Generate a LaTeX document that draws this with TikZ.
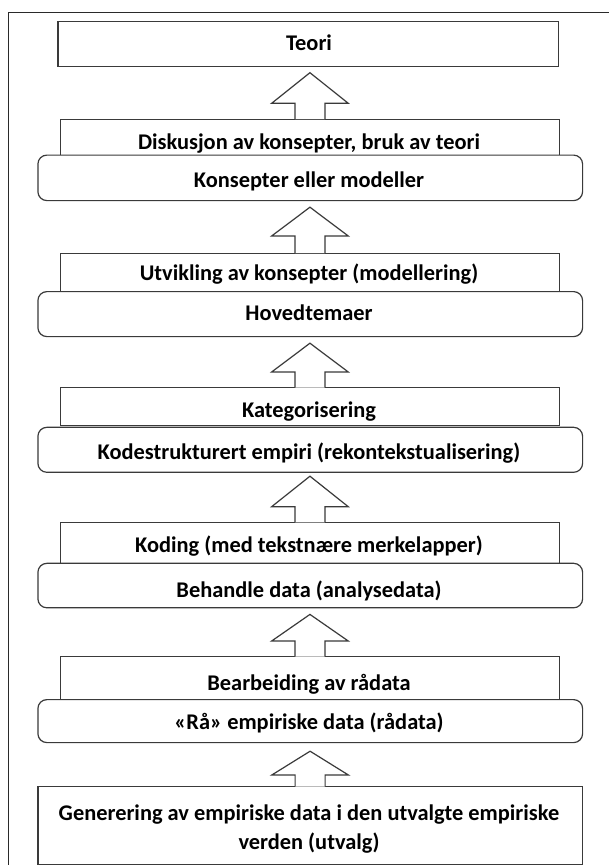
\documentclass[tikz,border=0pt]{standalone}
\usepackage{fontspec}
\setmainfont{Carlito}
\usetikzlibrary{calc}
\definecolor{edge}{HTML}{3A3A3A}
\definecolor{frame}{HTML}{2A2A2A}
\tikzset{
  sqbox/.style={draw=edge, line width=1.2pt, fill=white, rectangle, anchor=north west, inner sep=0pt},
  rdbox/.style={draw=edge, line width=1.2pt, fill=white, rectangle, rounded corners=9pt, anchor=north west, inner sep=0pt},
  lbl/.style={font=\fontsize{22.4}{29}\selectfont\bfseries, anchor=base, inner sep=0pt, text=black},
  blockarrow/.style={draw=edge, line width=1.2pt, fill=white, line join=miter},
}
% block arrow from the top of a lower box (#1) up to the box above it (#2)
% #3: gap below the upper box, #4: length of the shaft
\newcommand\flowarrow[4]{%
  \coordinate (#1-tip) at ($(#2.south)+(0,#3)$);
  \draw[blockarrow] ($(#1.north)+(-15,0.6)$) -- ++(0,-#4-0.6) -- ++(-23.3,0)
    -- (#1.north |- #1-tip) -- ($(#1.north)+(38.3,-#4)$) -- ++(-23.3,0) -- ++(0,#4+0.6);
}
\begin{document}
\begin{tikzpicture}[x=1pt,y=-1pt]
  \useasboundingbox (0,0) rectangle (609,865);
  \clip (0,0) rectangle (609,865);
  \fill[white] (0,0) rectangle (609,865);
  % outer frame, running off the right and bottom edges
  \draw[frame, line width=1pt] (8.3,880) -- (8.3,12.7) -- (620,12.7);

  % boxes, top to bottom
  \node[sqbox, minimum width=500.4, minimum height=44.7] (teori) at (57.3,21) {};
  \node[sqbox, minimum width=498.7, minimum height=36] (disk) at (60,118.5) {};
  \node[rdbox, minimum width=544.7, minimum height=45.5] (kons) at (37.3,154.5) {};
  \node[sqbox, minimum width=498.7, minimum height=38.5] (utv) at (60,252.5) {};
  \node[rdbox, minimum width=544.7, minimum height=45] (hoved) at (37.3,291) {};
  \node[sqbox, minimum width=498.7, minimum height=38] (kat) at (60,387) {};
  \node[rdbox, minimum width=544.7, minimum height=45] (kode) at (37.3,426.7) {};
  \node[sqbox, minimum width=498.7, minimum height=41] (koding) at (60,521.7) {};
  \node[rdbox, minimum width=544.7, minimum height=44.5] (behandle) at (37.3,562.7) {};
  \node[sqbox, minimum width=498.7, minimum height=43] (bearb) at (60,656) {};
  \node[rdbox, minimum width=544.7, minimum height=43] (raa) at (37.3,699) {};
  \node[sqbox, minimum width=544.4, minimum height=78] (gen) at (37.3,786) {};

  % arrows
  \flowarrow{disk}{teori}{5.8}{15.2}
  \flowarrow{utv}{kons}{6}{16.5}
  \flowarrow{kat}{hoved}{6}{15}
  \flowarrow{koding}{kode}{3.3}{15}
  \flowarrow{bearb}{behandle}{6}{15}
  \flowarrow{gen}{raa}{8}{11}

  % labels
  \node[lbl] (teori-t) at (309,50.5) {Teori};
  \node[lbl] (disk-t) at (309,149) {Diskusjon av konsepter, bruk av teori};
  \node[lbl] (kons-t) at (309,187.5) {Konsepter eller modeller};
  \node[lbl] (utv-t) at (309,280.5) {Utvikling av konsepter (modellering)};
  \node[lbl] (hoved-t) at (309,320.5) {Hovedtemaer};
  \node[lbl] (kat-t) at (309,417.5) {Kategorisering};
  \node[lbl] (kode-t) at (309,459) {Kodestrukturert empiri (rekontekstualisering)};
  \node[lbl] (koding-t) at (309,552.5) {Koding (med tekstnære merkelapper)};
  \node[lbl] (behandle-t) at (309,597.5) {Behandle data (analysedata)};
  \node[lbl] (bearb-t) at (309,690.5) {Bearbeiding av rådata};
  \node[lbl] (raa-t) at (309,729) {«Rå» empiriske data (rådata)};
  \node[lbl] (gen-t) at (309,820.5) {Generering av empiriske data i den utvalgte empiriske};
  \node[lbl] (gen-t2) at (309,849.5) {verden (utvalg)};
\end{tikzpicture}
\end{document}
